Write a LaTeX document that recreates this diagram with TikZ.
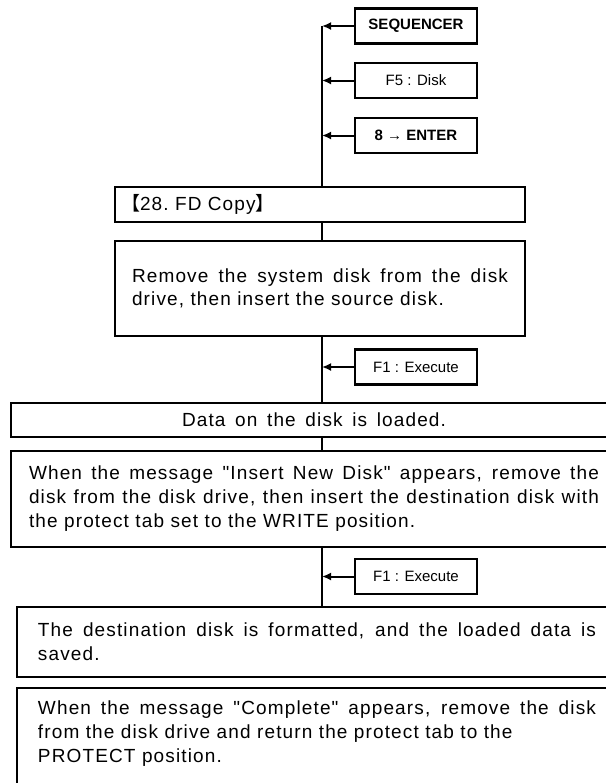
\documentclass[tikz,border=0pt]{standalone}
\usepackage{fontspec}
\setmainfont{Liberation Sans}
\newfontfamily\bodyfont[LetterSpace=6]{Liberation Sans}
\newfontfamily\cjkfont{Noto Sans CJK JP}
\usetikzlibrary{arrows.meta,positioning,calc}

\begin{document}
\begin{tikzpicture}[
        x=0.5pt, y=-0.5pt,
        font=\bodyfont\fontsize{9.5}{12}\selectfont,
        keybox/.style={rectangle, draw, line width=1.1pt,
          minimum width=61pt, minimum height=17.5pt, inner sep=0pt,
          font=\normalfont\fontsize{7.5}{9}\selectfont},
        stepbox/.style={rectangle, draw, line width=0.8pt, inner ysep=0pt},
        keyarrow/.style={line width=1pt, -{Latex[length=4.5pt,width=4pt]}},
        flow/.style={line width=0.8pt}
      ]
        \useasboundingbox (0,0) rectangle (606,783);
        \clip (0,0) rectangle (606,783);
        \coordinate (spine) at (322,26);
        \node[keybox] (seq) at (416,26) {\bfseries SEQUENCER};
        \node[keybox] (disk) at (416,80.5) {F5 : Disk};
        \node[keybox] (enter) at (416,135.5) {\bfseries 8 → ENTER};
        \node[stepbox, minimum width=205pt, minimum height=17.5pt,
          text width=199pt, inner xsep=3pt, align=left] (title) at (320,204.5)
          {{\cjkfont 【}28.\ FD\ Copy{\cjkfont 】}};
        \node[stepbox, minimum height=47.5pt, text width=188pt, inner xsep=8.5pt,
          align=justify, font=\bodyfont\fontsize{9.5}{11.5}\selectfont] (remove) at (320,288.5)
          {Remove the system disk from the disk\linebreak drive, then insert the source disk.};
        \node[keybox] (exec1) at (416,367) {F1 : Execute};
        \node[stepbox, minimum width=303pt, minimum height=17pt] (data) at (314,420)
          {\makebox[132pt][s]{Data on the disk is loaded.}};
        \node[stepbox, minimum height=48pt, text width=285pt, inner xsep=9pt,
          align=justify] (when) at (314,499)
          {When the message "Insert New Disk" appears, remove the\linebreak
           disk from the disk drive, then insert the destination disk with\linebreak
           the protect tab set to the WRITE position.};
        \node[keybox] (exec2) at (416,576.5) {F1 : Execute};
        \node[stepbox, minimum height=35pt, text width=279pt, inner xsep=10.5pt,
          align=justify] (dest) at (317,642)
          {The destination disk is formatted, and the loaded data is\linebreak saved.};
        \node[stepbox, minimum height=56pt, text width=279pt, inner xsep=10.5pt,
          align=justify] (done) at (317,744)
          {When the message "Complete" appears, remove the disk\linebreak
           from the disk drive and return the protect tab to the\\
           PROTECT position.\\ \mbox{}};
        \draw[flow] (spine) -- (spine |- title.north);
        \foreach \a/\b in {title/remove,remove/data,data/when,when/dest}
          \draw[flow] (spine |- \a.south) -- (spine |- \b.north);
        \foreach \k in {seq,disk,enter,exec1,exec2}
          \draw[keyarrow] (\k.west) -- (\k.west -| spine);
      \end{tikzpicture}
\end{document}
